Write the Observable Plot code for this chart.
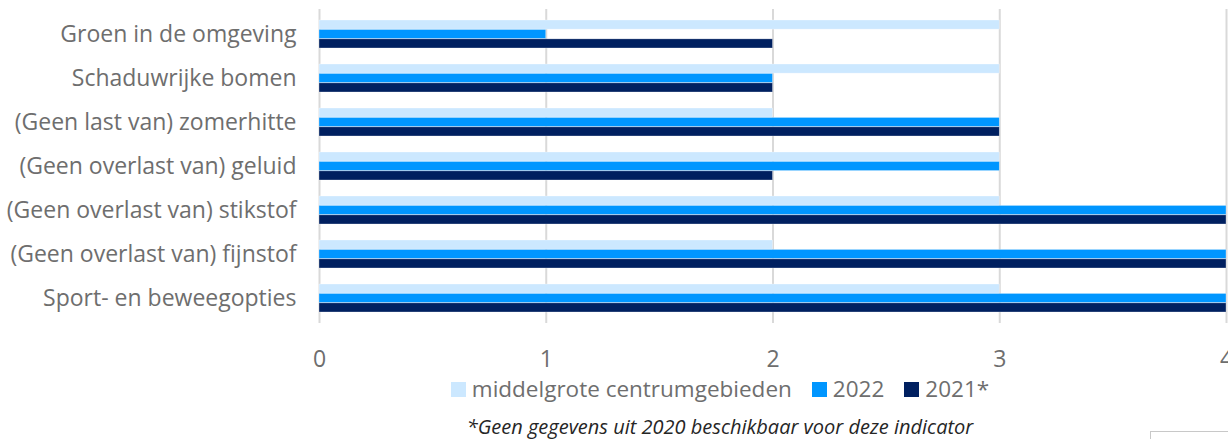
<!DOCTYPE html>
<html>
<head>
<meta charset="utf-8">
<script src="https://cdn.jsdelivr.net/npm/d3@7"></script>
<script src="https://cdn.jsdelivr.net/npm/@observablehq/plot@0.6"></script>
<style>
  html, body { margin: 0; padding: 0; background: #fff; overflow: hidden; }
  body { width: 1228px; height: 439px; position: relative; font-family: "Open Sans", "Noto Sans", sans-serif; }
  #legend { position: absolute; left: 0; top: 376px; width: 1228px; padding-left: 212px; box-sizing: border-box;
            display: flex; justify-content: center; align-items: center; gap: 20px; font-size: 22.5px; color: #6e6e6e; line-height: 26px; white-space: nowrap; }
  .item { display: flex; align-items: center; gap: 6px; }
  .sw { width: 15px; height: 15px; display: inline-block; }
  #caption { position: absolute; left: 0; top: 415px; width: 1228px; padding-left: 212px; box-sizing: border-box;
             text-align: center; font-style: italic; font-size: 20px; color: #262626; line-height: 24px; white-space: nowrap; }
  #box { position: absolute; left: 1150px; top: 431px; width: 90px; height: 20px; border: 1px solid #c8c8c8; }
</style>
</head>
<body>
<div id="chart"></div>
<div id="legend"></div>
<div id="caption">*Geen gegevens uit 2020 beschikbaar voor deze indicator</div>
<div id="box"></div>
<script>
const categories = [
  "Groen in de omgeving",
  "Schaduwrijke bomen",
  "(Geen last van) zomerhitte",
  "(Geen overlast van) geluid",
  "(Geen overlast van) stikstof",
  "(Geen overlast van) fijnstof",
  "Sport- en beweegopties"
];
const seriesNames = ["middelgrote centrumgebieden", "2022", "2021*"];
const seriesColors = ["#cce8ff", "#0096ff", "#002060"];
const valuesMiddelgroot = [3, 3, 2, 3, 3, 2, 3];
const values2022 = [1, 2, 3, 3, 4, 4, 4];
const values2021 = [2, 2, 3, 2, 4, 4, 4];
const xTicks = [0, 1, 2, 3, 4];

const seriesValues = [valuesMiddelgroot, values2022, values2021];

const W = 1228, H = 372;
const mTop = 9, mBottom = 49, mLeft = 319, mRight = 2;
const padInner = 0.37, padOuter = 0.18;

const band = d3.scaleBand().domain(categories).range([mTop, H - mBottom])
  .paddingInner(padInner).paddingOuter(padOuter);
const third = band.bandwidth() / 3;

const marks = [];
seriesNames.forEach((name, s) => {
  const data = categories.map((c, i) => ({category: c, value: seriesValues[s][i], series: name}));
  marks.push(Plot.barX(data, {
    x: "value",
    y: "category",
    fill: seriesColors[s],
    insetTop: s * third,
    insetBottom: (2 - s) * third,
    stroke: "#ffffff",
    strokeOpacity: 0.5,
    strokeWidth: 0.6
  }));
});

const chart = Plot.plot({
  width: W,
  height: H,
  marginTop: mTop,
  marginBottom: mBottom,
  marginLeft: mLeft,
  marginRight: mRight,
  style: { fontFamily: "'Open Sans', 'Noto Sans', sans-serif", color: "#6e6e6e", background: "#fff", overflow: "visible" },
  x: { domain: [0, 4] },
  y: { domain: categories, paddingInner: padInner, paddingOuter: padOuter },
  marks: [
    Plot.gridX(xTicks, { stroke: "#d9d9d9", strokeOpacity: 1, strokeWidth: 2 }),
    ...marks,
    Plot.axisX({ ticks: xTicks, tickFormat: d => String(d), tickSize: 0, tickPadding: 27, fontSize: 23, label: null, fill: "#6e6e6e" }),
    Plot.axisY({ tickSize: 0, tickPadding: 23, fontSize: 23, label: null, fill: "#6e6e6e" })
  ]
});
document.getElementById("chart").appendChild(chart);

const legend = document.getElementById("legend");
seriesNames.forEach((name, s) => {
  const it = document.createElement("span");
  it.className = "item";
  const sw = document.createElement("span");
  sw.className = "sw";
  sw.style.background = seriesColors[s];
  const tx = document.createElement("span");
  tx.textContent = name;
  it.appendChild(sw); it.appendChild(tx);
  legend.appendChild(it);
});
</script>
</body>
</html>
